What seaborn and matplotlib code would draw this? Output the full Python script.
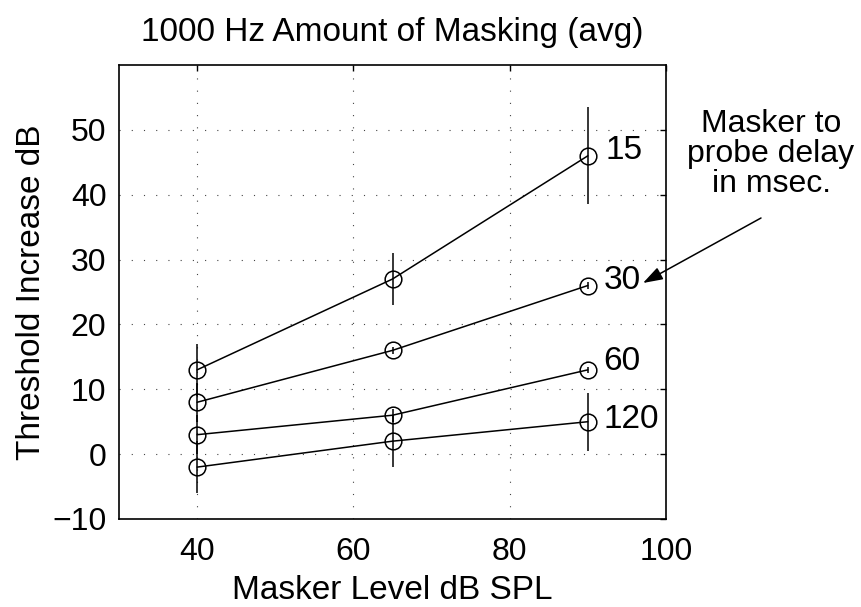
import matplotlib
matplotlib.use("Agg")
import matplotlib.pyplot as plt
import seaborn as sns
import pandas as pd
import numpy as np

levels = [40, 65, 90]
delays = ["15", "30", "60", "120"]
thr_15 = [13, 27, 46]
thr_30 = [8, 16, 26]
thr_60 = [3, 6, 13]
thr_120 = [-2, 2, 5]
err_15 = [4, 4, 7.5]
err_30 = [3, 0.5, 0.5]
err_60 = [3, 1, 0.5]
err_120 = [4, 4, 4.5]
label_y = [46.8, 26.8, 14.3, 5.3]

values = [thr_15, thr_30, thr_60, thr_120]
errors = [err_15, err_30, err_60, err_120]

rows = []
for d, v, e in zip(delays, values, errors):
    for x, y, er in zip(levels, v, e):
        rows.append({"level": x, "thr": y, "err": er, "delay": d})
df = pd.DataFrame(rows)

sns.set_style("white")
plt.rcParams['font.family'] = ['Liberation Sans', 'DejaVu Sans']
plt.rcParams['text.color'] = 'black'
plt.rcParams['axes.labelcolor'] = 'black'
plt.rcParams['xtick.color'] = 'black'
plt.rcParams['ytick.color'] = 'black'

fig = plt.figure(figsize=(8.61, 6.07), dpi=100)
ax = fig.add_axes([119 / 861, 1 - 519 / 607, 547 / 861, 454 / 607])

for d in delays:
    sub = df[df.delay == d]
    ax.errorbar(sub.level, sub.thr, yerr=sub.err, fmt='none', ecolor='black',
                elinewidth=1.1, capsize=0, zorder=2)

sns.lineplot(data=df, x="level", y="thr", units="delay", estimator=None, color="black",
             marker="o", markersize=12, markerfacecolor="none", markeredgecolor="black",
             markeredgewidth=1.1, linewidth=1.1, ax=ax, legend=False, zorder=3)

ax.set_xlim(30, 100)
ax.set_ylim(-10, 60)
ax.set_xticks([40, 60, 80, 100])
ax.set_yticks([-10, 0, 10, 20, 30, 40, 50])
ax.set_yticklabels(['\u221210', '0', '10', '20', '30', '40', '50'])
ax.grid(True, linestyle=(0, (1, 10)), color='#444444', linewidth=0.8)
ax.tick_params(direction='in', top=True, right=True, labelsize=23, length=4, width=1,
               labelcolor='black', color='black')
ax.tick_params(axis='x', pad=13)
ax.tick_params(axis='y', pad=9)
for s in ax.spines.values():
    s.set_linewidth(1.2)
    s.set_color('black')
ax.set_xlabel("Masker Level dB SPL", fontsize=24, labelpad=6, color='black')
ax.set_ylabel("Threshold Increase dB", fontsize=24, labelpad=4, color='black')
ax.set_title("1000 Hz Amount of Masking (avg)", fontsize=24, pad=17, color='black')

label_x = [92.3, 92.0, 92.0, 92.0]
for x, y, t in zip(label_x, label_y, delays):
    ax.text(x, y, t, fontsize=24, va='center', ha='left', color='black')

ax.annotate("", xy=(643, 607 - 283), xycoords='figure pixels',
            xytext=(761, 607 - 218), textcoords='figure pixels',
            arrowprops=dict(arrowstyle='-|>,head_length=0.6,head_width=0.2', color='black',
                            lw=1.1, mutation_scale=20, shrinkA=0, shrinkB=0))
fig.text(771 / 861, 1 - 192 / 607, "Masker to\nprobe delay\nin msec.", ha='center', va='baseline',
         fontsize=23, linespacing=1.0, multialignment='center', color='black')

fig.savefig("out.png", dpi=100)
